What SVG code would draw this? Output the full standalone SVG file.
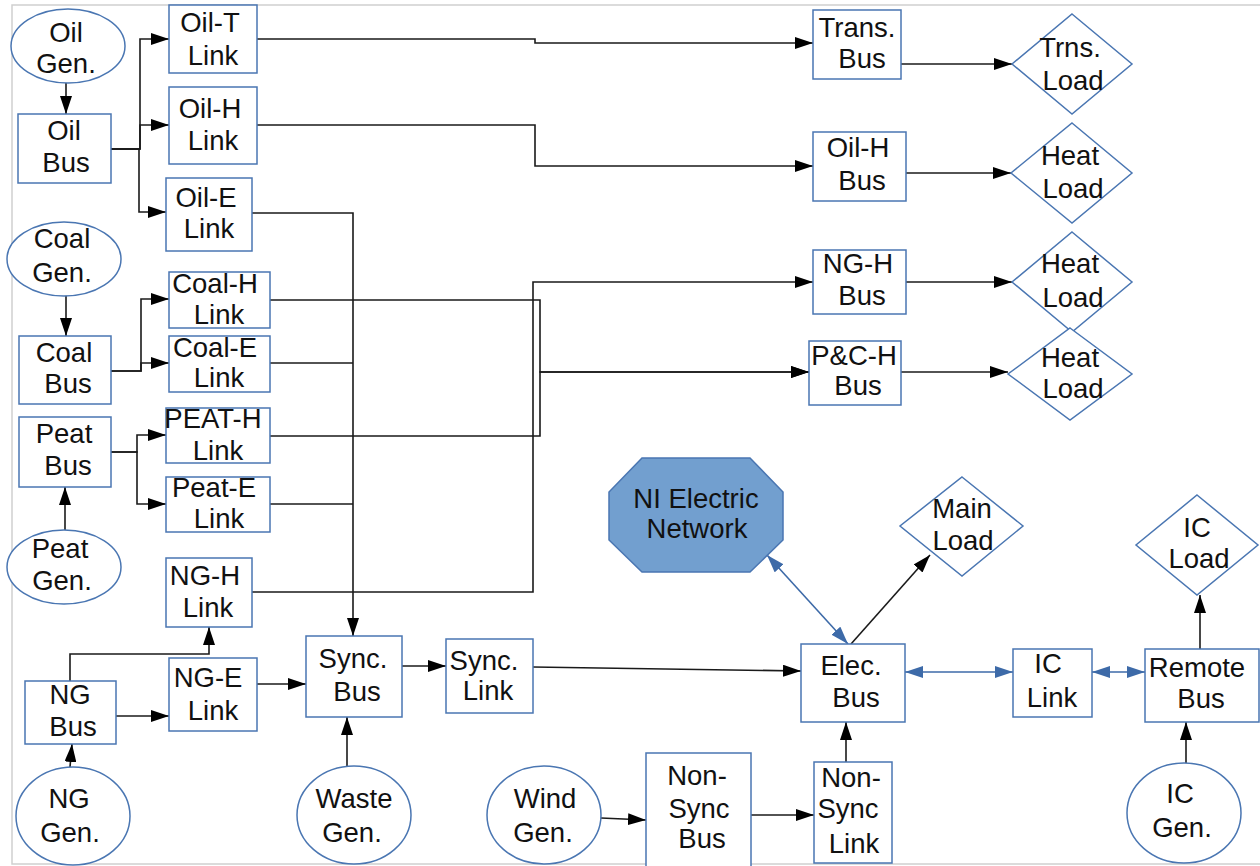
<svg xmlns="http://www.w3.org/2000/svg" width="1260" height="866" viewBox="0 0 1260 866">
<style>
.n{fill:#fff;stroke:#4a76b2;stroke-width:1.5}
.oct{fill:#729fcf;stroke:#4a76b2;stroke-width:1.5}
text{font-family:"Liberation Sans",Arial,sans-serif;font-size:27.5px;fill:#111;text-anchor:middle}
.c{fill:none;stroke:#1a1a1a;stroke-width:1.6}
.b{fill:none;stroke:#3d6aa8;stroke-width:1.6}
</style>
<defs>
<marker id="ah" viewBox="0 0 18 12" refX="18" refY="6" markerWidth="18" markerHeight="12" markerUnits="userSpaceOnUse" orient="auto"><path d="M0,0 L18,6 L0,12 z" fill="#000"/></marker>
<marker id="bh" viewBox="0 0 18 12" refX="18" refY="6" markerWidth="18" markerHeight="12" markerUnits="userSpaceOnUse" orient="auto-start-reverse"><path d="M0,0 L18,6 L0,12 z" fill="#3d6aa8"/></marker>
</defs>
<rect x="0" y="0" width="1260" height="866" fill="#fff"/>
<rect x="12" y="5" width="1270" height="859" fill="none" stroke="#cfcfcf" stroke-width="1.5"/>

<g id="connectors">
<path class="c" d="M66,83 V114" marker-end="url(#ah)"/>
<path class="c" d="M111,149 H140 V39 H169" marker-end="url(#ah)"/>
<path class="c" d="M111,149 H140 V125 H169" marker-end="url(#ah)"/>
<path class="c" d="M111,149 H139 V212 H166" marker-end="url(#ah)"/>
<path class="c" d="M257,39 H535 V43 H813" marker-end="url(#ah)"/>
<path class="c" d="M257,125 H535 V166 H813" marker-end="url(#ah)"/>
<path class="c" d="M252,213 H353 V636" marker-end="url(#ah)"/>
<path class="c" d="M66,295 V336" marker-end="url(#ah)"/>
<path class="c" d="M111,371 H141 V299 H169" marker-end="url(#ah)"/>
<path class="c" d="M111,371 H141 V363 H169" marker-end="url(#ah)"/>
<path class="c" d="M270,300 H540 V372 H809" marker-end="url(#ah)"/>
<path class="c" d="M270,363 H353"/>
<path class="c" d="M270,436 H540 V372 H809" marker-end="url(#ah)"/>
<path class="c" d="M111,452 H137 V435 H166" marker-end="url(#ah)"/>
<path class="c" d="M111,452 H137 V504 H166" marker-end="url(#ah)"/>
<path class="c" d="M270,504 H353"/>
<path class="c" d="M65,530 V487" marker-end="url(#ah)"/>
<path class="c" d="M252,592 H533 V282 H813" marker-end="url(#ah)"/>
<path class="c" d="M70,681 V654 H209 V627" marker-end="url(#ah)"/>
<path class="c" d="M70,767 L72,744" marker-end="url(#ah)"/>
<path class="c" d="M116,716 H169" marker-end="url(#ah)"/>
<path class="c" d="M257,684 H306" marker-end="url(#ah)"/>
<path class="c" d="M347,767 V717" marker-end="url(#ah)"/>
<path class="c" d="M402,666 H446" marker-end="url(#ah)"/>
<path class="c" d="M533,667 L801,671" marker-end="url(#ah)"/>
<path class="c" d="M601,818 L646,820" marker-end="url(#ah)"/>
<path class="c" d="M751,815 H814" marker-end="url(#ah)"/>
<path class="c" d="M846,762 V722" marker-end="url(#ah)"/>
<path class="b" d="M848,644 L767,555" marker-start="url(#bh)" marker-end="url(#bh)"/>
<path class="c" d="M851,644 L930,555" marker-end="url(#ah)"/>
<path class="b" d="M905,672 H1013" marker-start="url(#bh)" marker-end="url(#bh)"/>
<path class="b" d="M1092,672 H1145" marker-start="url(#bh)" marker-end="url(#bh)"/>
<path class="c" d="M1200,649 V595" marker-end="url(#ah)"/>
<path class="c" d="M1186,763 V722" marker-end="url(#ah)"/>
<path class="c" d="M901,64 H1012" marker-end="url(#ah)"/>
<path class="c" d="M906,173 H1011" marker-end="url(#ah)"/>
<path class="c" d="M906,282 H1012" marker-end="url(#ah)"/>
<path class="c" d="M901,372 H1008" marker-end="url(#ah)"/>
</g>

<g id="oil_gen"><ellipse class="n" cx="68" cy="46" rx="57" ry="37"/><text x="66" y="42">Oil</text><text x="66" y="73">Gen.</text></g>
<g id="oil_bus"><rect class="n" x="18" y="114" width="93" height="69"/><text x="64" y="140">Oil</text><text x="66" y="172">Bus</text></g>
<g id="oil_t_link"><rect class="n" x="169" y="5" width="88" height="68"/><text x="210" y="32">Oil-T</text><text x="213" y="65">Link</text></g>
<g id="oil_h_link"><rect class="n" x="169" y="87" width="88" height="77"/><text x="210" y="118">Oil-H</text><text x="213" y="150">Link</text></g>
<g id="oil_e_link"><rect class="n" x="166" y="178" width="86" height="73"/><text x="206" y="207">Oil-E</text><text x="209" y="238">Link</text></g>
<g id="coal_gen"><ellipse class="n" cx="64" cy="259" rx="57" ry="37"/><text x="62" y="248">Coal</text><text x="62" y="282">Gen.</text></g>
<g id="coal_bus"><rect class="n" x="19" y="336" width="92" height="68"/><text x="64" y="362">Coal</text><text x="68" y="393">Bus</text></g>
<g id="coal_h_link"><rect class="n" x="169" y="272" width="101" height="56"/><text x="215" y="293">Coal-H</text><text x="219" y="324">Link</text></g>
<g id="coal_e_link"><rect class="n" x="169" y="336" width="101" height="56"/><text x="215" y="357">Coal-E</text><text x="219" y="387">Link</text></g>
<g id="peat_bus"><rect class="n" x="19" y="417" width="92" height="70"/><text x="64" y="443">Peat</text><text x="68" y="475">Bus</text></g>
<g id="peat_h_link"><rect class="n" x="166" y="408" width="104" height="55"/><text x="213" y="428">PEAT-H</text><text x="218" y="460">Link</text></g>
<g id="peat_e_link"><rect class="n" x="166" y="477" width="104" height="55"/><text x="214" y="497">Peat-E</text><text x="219" y="528">Link</text></g>
<g id="peat_gen"><ellipse class="n" cx="64" cy="567" rx="57" ry="37"/><text x="60" y="558">Peat</text><text x="62" y="590">Gen.</text></g>
<g id="ng_h_link"><rect class="n" x="166" y="558" width="86" height="69"/><text x="205" y="585">NG-H</text><text x="208" y="617">Link</text></g>
<g id="ng_e_link"><rect class="n" x="169" y="658" width="88" height="73"/><text x="208" y="687">NG-E</text><text x="213" y="720">Link</text></g>
<g id="ng_bus"><rect class="n" x="25" y="681" width="91" height="63"/><text x="70" y="704">NG</text><text x="73" y="736">Bus</text></g>
<g id="ng_gen"><ellipse class="n" cx="73" cy="816" rx="57" ry="49"/><text x="69" y="808">NG</text><text x="70" y="842">Gen.</text></g>
<g id="sync_bus"><rect class="n" x="306" y="636" width="96" height="81"/><text x="353" y="668">Sync.</text><text x="357" y="701">Bus</text></g>
<g id="waste_gen"><ellipse class="n" cx="354" cy="815" rx="57" ry="49"/><text x="354" y="808">Waste</text><text x="352" y="842">Gen.</text></g>
<g id="sync_link"><rect class="n" x="446" y="639" width="87" height="74"/><text x="484" y="670">Sync.</text><text x="488" y="700">Link</text></g>
<g id="trans_bus"><rect class="n" x="813" y="10" width="88" height="69"/><text x="857" y="37">Trans.</text><text x="862" y="68">Bus</text></g>
<g id="oil_h_bus"><rect class="n" x="813" y="132" width="93" height="69"/><text x="858" y="157">Oil-H</text><text x="862" y="190">Bus</text></g>
<g id="ng_h_bus"><rect class="n" x="813" y="250" width="93" height="64"/><text x="858" y="273">NG-H</text><text x="862" y="305">Bus</text></g>
<g id="pc_h_bus"><rect class="n" x="809" y="341" width="92" height="64"/><text x="854" y="365">P&amp;C-H</text><text x="858" y="395">Bus</text></g>
<g id="trns_load"><polygon class="n" points="1072,14 1132,64 1072,114 1012,64"/><text x="1070" y="57">Trns.</text><text x="1073" y="90">Load</text></g>
<g id="heat_load_1"><polygon class="n" points="1072,123 1132,173 1072,223 1011,173"/><text x="1070" y="165">Heat</text><text x="1073" y="198">Load</text></g>
<g id="heat_load_2"><polygon class="n" points="1072,232 1132,282 1072,332 1012,282"/><text x="1070" y="273">Heat</text><text x="1073" y="307">Load</text></g>
<g id="heat_load_3"><polygon class="n" points="1070,328 1132,374 1070,420 1008,374"/><text x="1070" y="367">Heat</text><text x="1073" y="398">Load</text></g>
<g id="ni_network"><polygon class="oct" points="642,458 750,458 783,492 783,540 750,572 642,572 609,540 609,492"/><text x="696" y="508">NI Electric</text><text x="697" y="538">Network</text></g>
<g id="main_load"><polygon class="n" points="962,477 1023,526 962,576 900,526"/><text x="962" y="518">Main</text><text x="963" y="550">Load</text></g>
<g id="ic_load"><polygon class="n" points="1197,495 1258,545 1197,595 1136,545"/><text x="1197" y="537">IC</text><text x="1199" y="568">Load</text></g>
<g id="elec_bus"><rect class="n" x="801" y="644" width="104" height="78"/><text x="851" y="675">Elec.</text><text x="856" y="707">Bus</text></g>
<g id="ic_link"><rect class="n" x="1013" y="649" width="79" height="68"/><text x="1048" y="673">IC</text><text x="1052" y="707">Link</text></g>
<g id="remote_bus"><rect class="n" x="1145" y="649" width="114" height="73"/><text x="1197" y="677">Remote</text><text x="1201" y="708">Bus</text></g>
<g id="ic_gen"><ellipse class="n" cx="1184" cy="813" rx="57" ry="50"/><text x="1180" y="803">IC</text><text x="1182" y="837">Gen.</text></g>
<g id="wind_gen"><ellipse class="n" cx="544" cy="815" rx="57" ry="49"/><text x="545" y="808">Wind</text><text x="543" y="842">Gen.</text></g>
<g id="non_sync_bus"><rect class="n" x="646" y="753" width="105" height="115"/><text x="697" y="785">Non-</text><text x="699" y="818">Sync</text><text x="702" y="848">Bus</text></g>
<g id="non_sync_link"><rect class="n" x="814" y="762" width="78" height="101"/><text x="851" y="787">Non-</text><text x="848" y="818">Sync</text><text x="854" y="853">Link</text></g>
</svg>
